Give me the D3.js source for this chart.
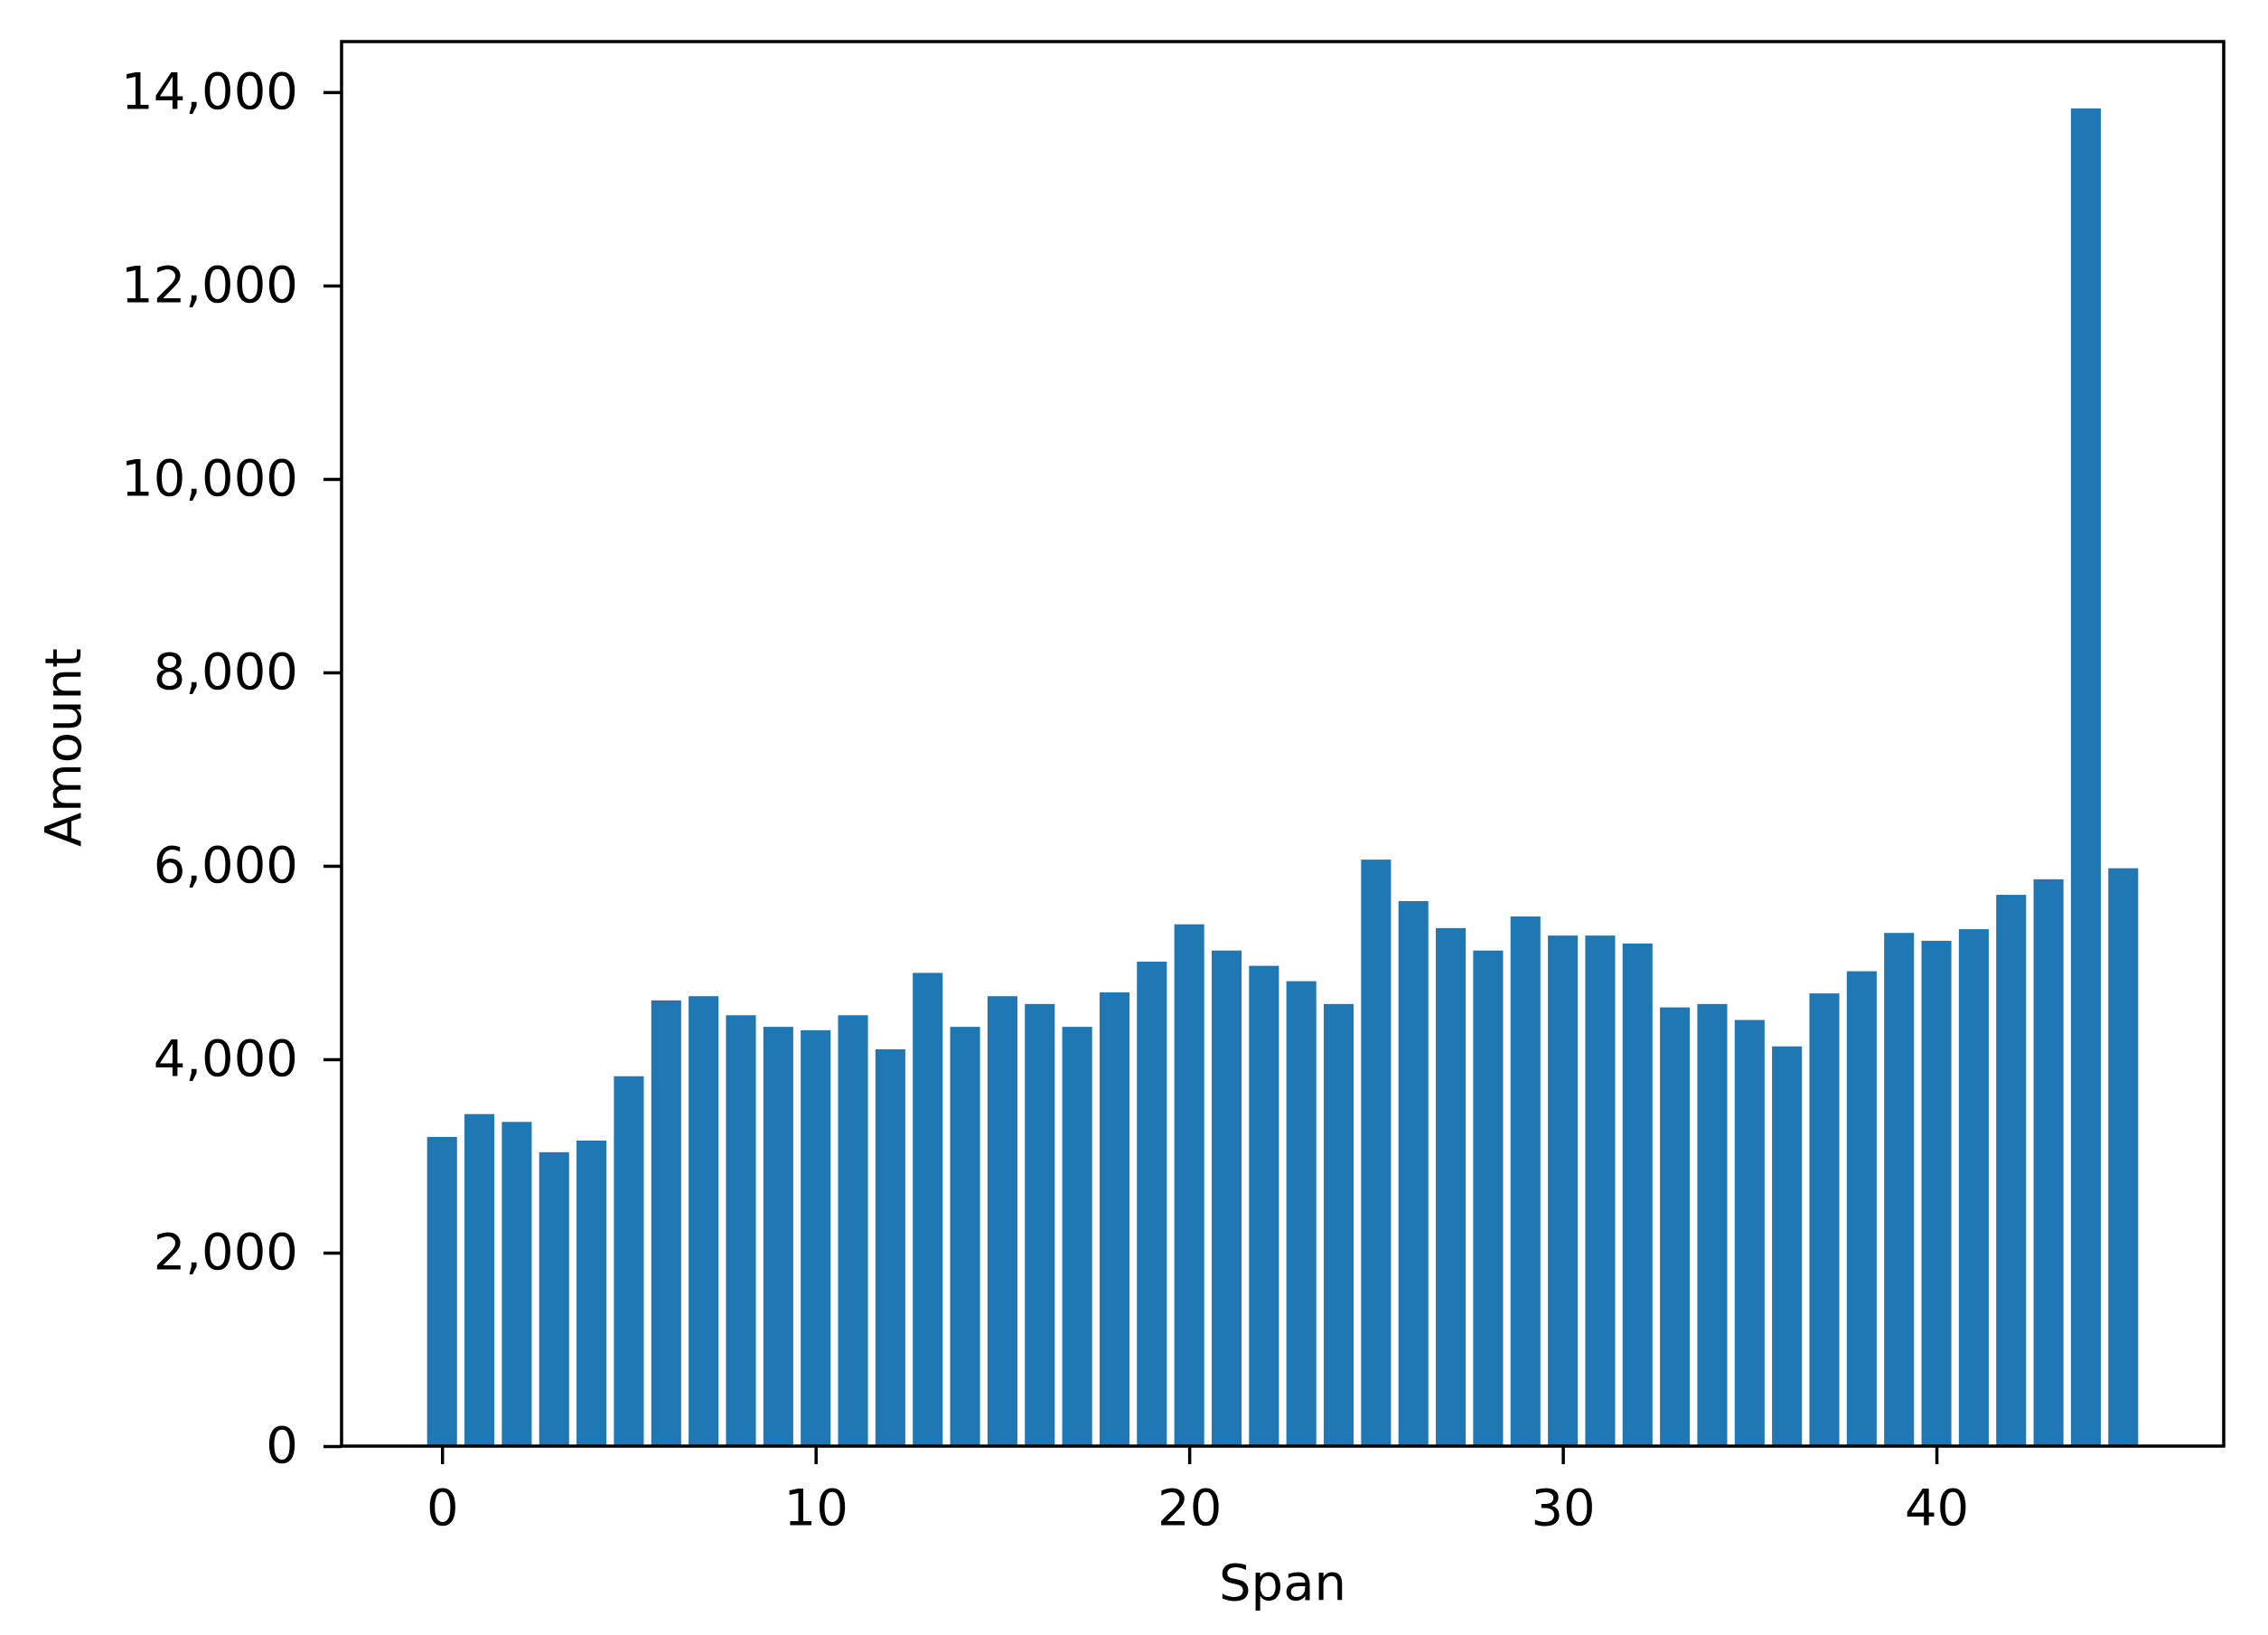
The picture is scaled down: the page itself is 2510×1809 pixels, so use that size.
<!DOCTYPE html>
<html>
<head>
<meta charset="utf-8">
<script src="https://cdn.jsdelivr.net/npm/d3@7"></script>
<style>
html,body{margin:0;padding:0;background:#fff;}
svg{display:block;}
</style>
</head>
<body>
<svg id="chart" width="2510" height="1809"></svg>
<script>
// Data
const spans = d3.range(0, 46);
const amounts = [
  3197, 3433, 3352, 3039, 3159, 3824, 4609, 4652, 4455, 4335,
  4300, 4455, 4103, 4893, 4335, 4652, 4571, 4335, 4691, 5009,
  5395, 5124, 4966, 4807, 4571, 6064, 5635, 5356, 5124, 5476,
  5279, 5279, 5197, 4536, 4571, 4406, 4133, 4681, 4910, 5306,
  5225, 5345, 5700, 5861, 13831, 5975
];
const xTicks = [0, 10, 20, 30, 40];
const yTicks = [0, 2000, 4000, 6000, 8000, 10000, 12000, 14000];
const xLabel = "Span";
const yLabel = "Amount";

const margin = {left: 378, right: 2510 - 2461, top: 46, bottom: 1809 - 1600};
const W = 2510, H = 1809;
const iw = W - margin.left - margin.right;
const ih = H - margin.top - margin.bottom;
const font = "DejaVu Sans, sans-serif";
const fs = 56;

const svg = d3.select("#chart");
const g = svg.append("g").attr("transform", `translate(${margin.left},${margin.top})`);

const barW = 0.8;
const xmin = -barW/2, xmax = spans.length - 1 + barW/2;
const pad = (xmax - xmin) * 0.05;
const x = d3.scaleLinear().domain([xmin - pad, xmax + pad]).range([0, iw]);
const ymax = d3.max(amounts) * 1.05;
const y = d3.scaleLinear().domain([0, ymax]).range([ih, 0]);

g.selectAll("rect.bar").data(spans).enter().append("rect")
  .attr("class", "bar")
  .attr("x", d => x(d - barW/2))
  .attr("width", d => x(d + barW/2) - x(d - barW/2))
  .attr("y", (d, i) => y(amounts[i]))
  .attr("height", (d, i) => y(0) - y(amounts[i]))
  .attr("fill", "#1f77b4");

const xAxis = g.append("g").attr("transform", `translate(0,${ih})`)
  .call(d3.axisBottom(x).tickValues(xTicks).tickFormat(d3.format("d")).tickSize(20).tickPadding(27));
const yAxis = g.append("g")
  .call(d3.axisLeft(y).tickValues(yTicks).tickFormat(d3.format(",")).tickSize(20).tickPadding(28));

[xAxis, yAxis].forEach(a => {
  a.select(".domain").remove();
  a.selectAll(".tick line").attr("stroke", "#000").attr("stroke-width", 3.5);
  a.selectAll(".tick text").attr("fill", "#000").style("font-family", font).style("font-size", fs + "px");
});

g.append("rect").attr("x", 0).attr("y", 0).attr("width", iw).attr("height", ih)
  .attr("fill", "none").attr("stroke", "#000").attr("stroke-width", 3.5);

svg.append("text")
  .attr("x", margin.left + iw/2).attr("y", 1770)
  .attr("text-anchor", "middle")
  .style("font-family", font).style("font-size", fs + "px").attr("fill", "#000")
  .text(xLabel);

svg.append("text")
  .attr("transform", `translate(89,${margin.top + ih/2 + 4}) rotate(-90)`)
  .attr("text-anchor", "middle")
  .style("font-family", font).style("font-size", fs + "px").attr("fill", "#000")
  .text(yLabel);
</script>
</body>
</html>
